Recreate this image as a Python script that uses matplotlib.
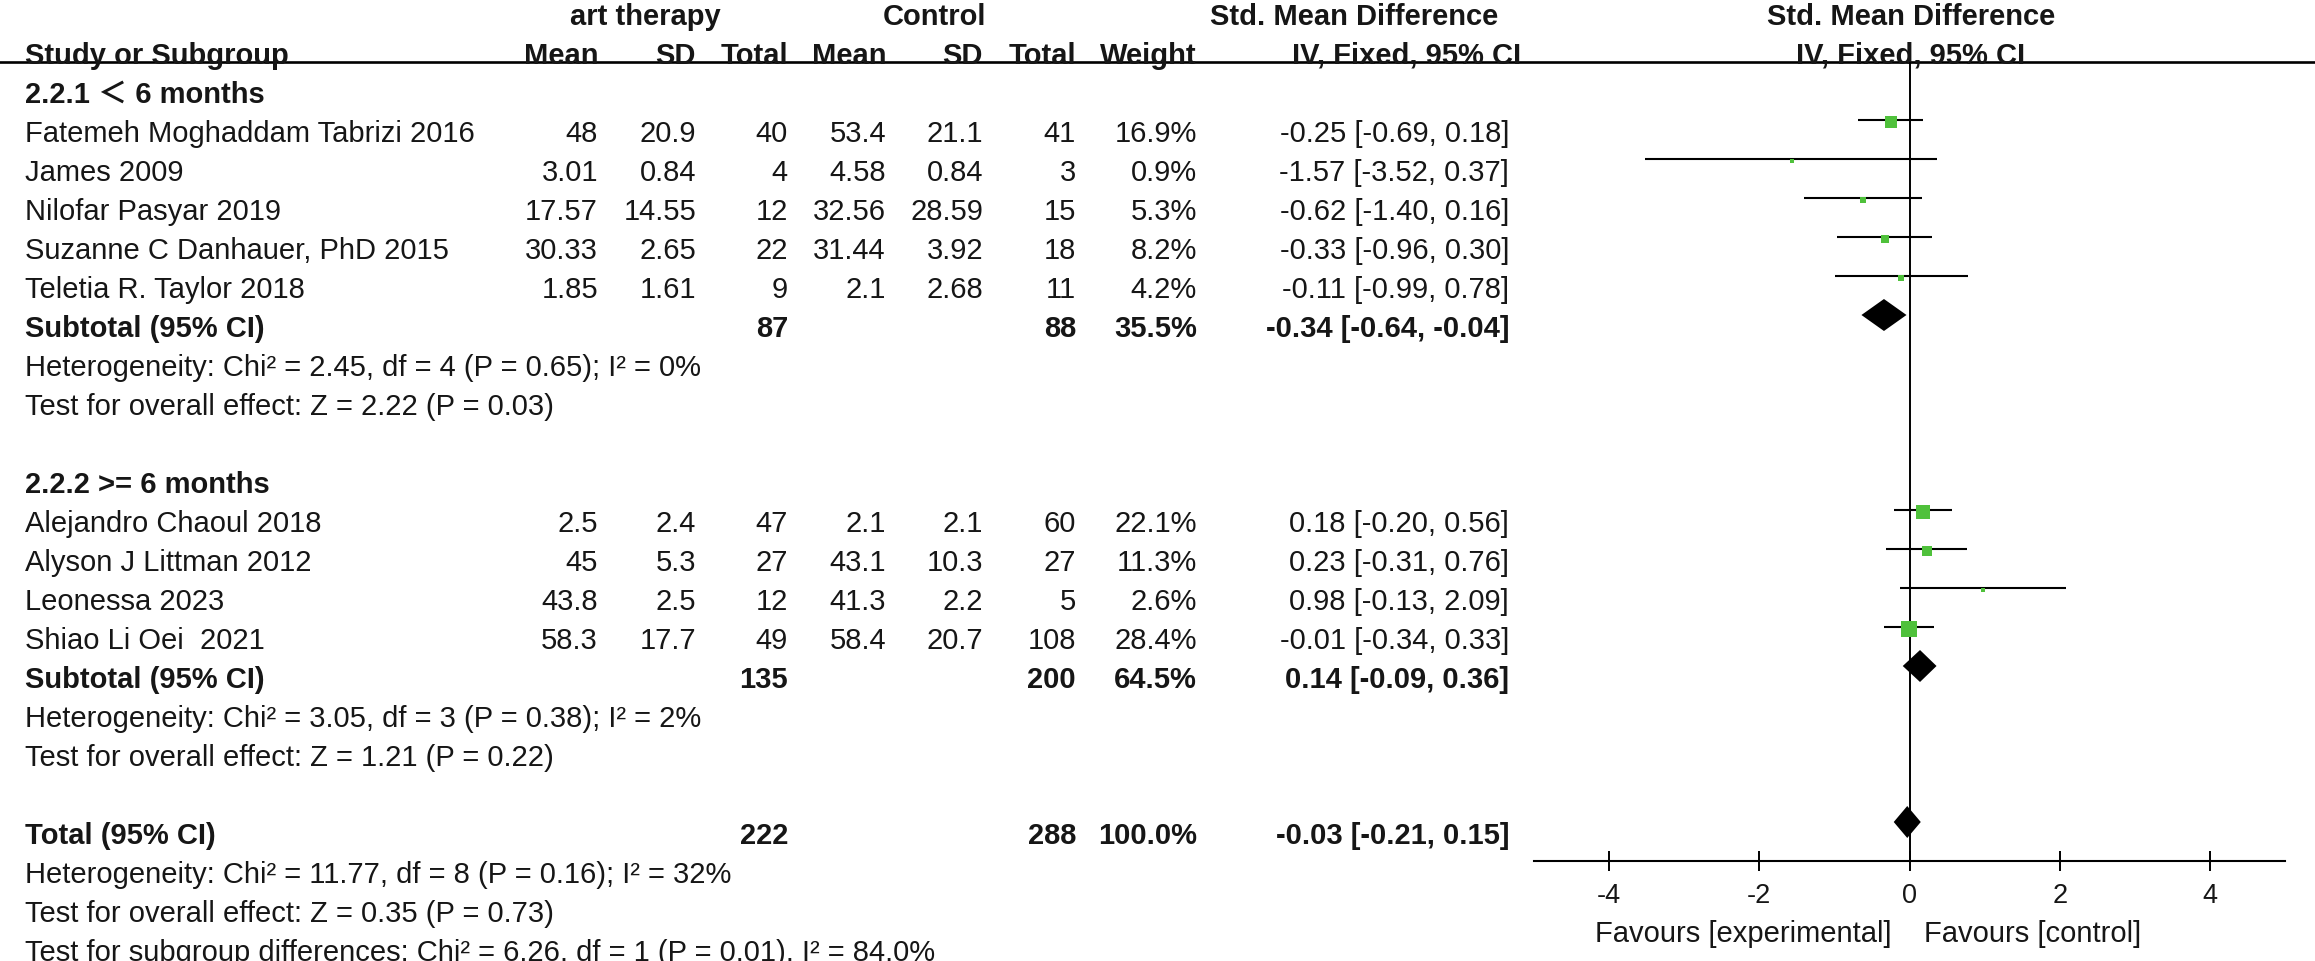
import matplotlib.pyplot as plt
import numpy as np

plt.rcParams['font.family'] = ['Liberation Sans', 'Noto Sans CJK SC', 'DejaVu Sans']
plt.rcParams['axes.unicode_minus'] = False

# subgroup 1: < 6 months
names_1 = ['Fatemeh Moghaddam Tabrizi 2016', 'James 2009', 'Nilofar Pasyar 2019',
           'Suzanne C Danhauer, PhD 2015', 'Teletia R. Taylor 2018']
exp_mean_1 = [48, 3.01, 17.57, 30.33, 1.85]
exp_sd_1 = [20.9, 0.84, 14.55, 2.65, 1.61]
exp_n_1 = [40, 4, 12, 22, 9]
ctl_mean_1 = [53.4, 4.58, 32.56, 31.44, 2.1]
ctl_sd_1 = [21.1, 0.84, 28.59, 3.92, 2.68]
ctl_n_1 = [41, 3, 15, 18, 11]
weight_1 = [16.9, 0.9, 5.3, 8.2, 4.2]
smd_1 = [-0.25, -1.57, -0.62, -0.33, -0.11]
lo_1 = [-0.69, -3.52, -1.40, -0.96, -0.99]
hi_1 = [0.18, 0.37, 0.16, 0.30, 0.78]

# subgroup 2: >= 6 months
names_2 = ['Alejandro Chaoul 2018', 'Alyson J Littman 2012', 'Leonessa 2023', 'Shiao Li Oei  2021']
exp_mean_2 = [2.5, 45, 43.8, 58.3]
exp_sd_2 = [2.4, 5.3, 2.5, 17.7]
exp_n_2 = [47, 27, 12, 49]
ctl_mean_2 = [2.1, 43.1, 41.3, 58.4]
ctl_sd_2 = [2.1, 10.3, 2.2, 20.7]
ctl_n_2 = [60, 27, 5, 108]
weight_2 = [22.1, 11.3, 2.6, 28.4]
smd_2 = [0.18, 0.23, 0.98, -0.01]
lo_2 = [-0.20, -0.31, -0.13, -0.34]
hi_2 = [0.56, 0.76, 2.09, 0.33]

# pooled rows: label, exp total, control total, weight, smd, lo, hi
pooled_labels = ['Subtotal (95% CI)', 'Subtotal (95% CI)', 'Total (95% CI)']
pooled_exp_n = [87, 135, 222]
pooled_ctl_n = [88, 200, 288]
pooled_weight = [35.5, 64.5, 100.0]
pooled_smd = [-0.34, 0.14, -0.03]
pooled_lo = [-0.64, -0.09, -0.21]
pooled_hi = [-0.04, 0.36, 0.15]

subgroup_titles = ['2.2.1 ＜ 6 months', '2.2.2 >= 6 months']
het_1 = ['Heterogeneity: Chi² = 2.45, df = 4 (P = 0.65); I² = 0%',
         'Test for overall effect: Z = 2.22 (P = 0.03)']
het_2 = ['Heterogeneity: Chi² = 3.05, df = 3 (P = 0.38); I² = 2%',
         'Test for overall effect: Z = 1.21 (P = 0.22)']
het_total = ['Heterogeneity: Chi² = 11.77, df = 8 (P = 0.16); I² = 32%',
             'Test for overall effect: Z = 0.35 (P = 0.73)',
             'Test for subgroup differences: Chi² = 6.26, df = 1 (P = 0.01), I² = 84.0%']
x_ticks = [-4, -2, 0, 2, 4]

# layout (pixels)
W, H = 2315, 962
ROW0, STEP = 92, 39
FS = 21
TXT = '#161616'
GREEN = '#4fc13b'
COLS = [598, 696, 788, 886, 983, 1076, 1197, 1509]

fig = plt.figure(figsize=(W / 100, H / 100), dpi=100)

tab = fig.add_axes([0, 0, 1, 1])
tab.set_xlim(0, W)
tab.set_ylim((H - ROW0) / STEP, -ROW0 / STEP)
tab.axis('off')

fa = fig.add_axes([1534 / W, 0, 751 / W, 1])
fa.patch.set_visible(False)
fa.set_xlim(-5, 5)
fa.set_ylim((H - 82) / STEP, -82 / STEP)


def put(x, k, s, ha='right', bold=False, size=FS):
    tab.text(x, k, s, ha=ha, va='center_baseline', fontsize=size, color=TXT,
             fontweight='bold' if bold else 'normal')


# header
put(645, -2, 'art therapy', ha='center', bold=True)
put(935, -2, 'Control', ha='center', bold=True)
put(1498, -2, 'Std. Mean Difference', bold=True)
put(1911, -2, 'Std. Mean Difference', ha='center', bold=True)
put(25, -1, 'Study or Subgroup', ha='left', bold=True)
for x, s in zip(COLS[:7], ['Mean', 'SD', 'Total', 'Mean', 'SD', 'Total', 'Weight']):
    put(x, -1, s, bold=True)
put(1521, -1, 'IV, Fixed, 95% CI', bold=True)
put(1911, -1, 'IV, Fixed, 95% CI', ha='center', bold=True)
tab.axhline((63 - ROW0) / STEP, color='black', lw=1.9)


def ci_text(e, lo, hi):
    return '%.2f [%.2f, %.2f]' % (e, lo, hi)


groups = [
    (names_1, exp_mean_1, exp_sd_1, exp_n_1, ctl_mean_1, ctl_sd_1, ctl_n_1, weight_1, smd_1, lo_1, hi_1, het_1),
    (names_2, exp_mean_2, exp_sd_2, exp_n_2, ctl_mean_2, ctl_sd_2, ctl_n_2, weight_2, smd_2, lo_2, hi_2, het_2),
]
starts = [0, 10]
study_rows, study_smd, study_lo, study_hi, study_w = [], [], [], [], []
pooled_rows = []
for g, (grp, k0) in enumerate(zip(groups, starts)):
    names, em, esd, en, cm, csd, cn, w, smd, lo, hi, het = grp
    put(25, k0, subgroup_titles[g], ha='left', bold=True)
    for i in range(len(names)):
        k = k0 + 1 + i
        put(25, k, names[i], ha='left')
        vals = [em[i], esd[i], en[i], cm[i], csd[i], cn[i], '%.1f%%' % w[i], ci_text(smd[i], lo[i], hi[i])]
        for x, v in zip(COLS, vals):
            put(x, k, str(v))
        study_rows.append(k)
    study_smd += smd
    study_lo += lo
    study_hi += hi
    study_w += w
    k = k0 + 1 + len(names)
    pooled_rows.append(k)
    for j, s in enumerate(het):
        put(25, k + 1 + j, s, ha='left')
pooled_rows.append(19)
for j, s in enumerate(het_total):
    put(25, 20 + j, s, ha='left')

for p, k in enumerate(pooled_rows):
    put(25, k, pooled_labels[p], ha='left', bold=True)
    put(COLS[2], k, str(pooled_exp_n[p]), bold=True)
    put(COLS[5], k, str(pooled_ctl_n[p]), bold=True)
    put(COLS[6], k, '%.1f%%' % pooled_weight[p], bold=True)
    put(COLS[7], k, ci_text(pooled_smd[p], pooled_lo[p], pooled_hi[p]), bold=True)

# forest plot
fa.vlines(0, (63 - 82) / STEP, 20, color='black', lw=1.4)
fa.hlines(study_rows, study_lo, study_hi, color='black', lw=1.5)
for k, e, w in zip(study_rows, study_smd, study_w):
    side = max(2.9 * np.sqrt(w), 5) * 0.72
    fa.plot(e, k + 0.05, 's', ms=side, color=GREEN, mew=0)
for k, e, lo, hi in zip(pooled_rows, pooled_smd, pooled_lo, pooled_hi):
    fa.fill([lo, e, hi, e], [k, k - 0.41, k, k + 0.41], color='black', lw=0)

for s in ['top', 'left', 'right']:
    fa.spines[s].set_visible(False)
fa.spines['bottom'].set_position(('data', 20))
fa.spines['bottom'].set_bounds(-5, 5)
fa.spines['bottom'].set_linewidth(1.5)
fa.set_yticks([])
fa.set_xticks(x_ticks)
fa.set_xticklabels([str(t) for t in x_ticks])
fa.tick_params(axis='x', direction='inout', length=13.7, width=1.4, labelsize=19.5,
               pad=8, color='black', labelcolor=TXT)

put(1892, (931 - ROW0) / STEP, 'Favours [experimental]')
put(1924, (931 - ROW0) / STEP, 'Favours [control]', ha='left')

fig.savefig('out.png', dpi=100)
